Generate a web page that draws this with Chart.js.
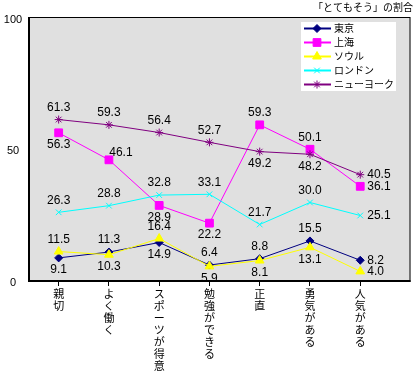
<!DOCTYPE html>
<html>
<head>
<meta charset="utf-8">
<script src="https://cdn.jsdelivr.net/npm/chart.js"></script>
<style>
  html, body { margin: 0; padding: 0; background: #fff; }
  canvas { display: block; }
</style>
</head>
<body>
<canvas id="chart" width="417" height="371"></canvas>
<script>
const categories = ['親切', 'よく働く', 'スポーツが得意', '勉強ができる', '正直', '勇気がある', '人気がある'];
const cities = ['東京', '上海', 'ソウル', 'ロンドン', 'ニューヨーク'];
const tokyo = [9.1, 11.3, 14.9, 6.4, 8.8, 15.5, 8.2];
const shanghai = [56.3, 46.1, 28.9, 22.2, 59.3, 50.1, 36.1];
const seoul = [11.5, 10.3, 16.4, 5.9, 8.1, 13.1, 4.0];
const london = [26.3, 28.8, 32.8, 33.1, 21.7, 30.0, 25.1];
const newyork = [61.3, 59.3, 56.4, 52.7, 49.2, 48.2, 40.5];
const yTicks = [0, 50, 100];
const titleText = '「とてもそう」の割合';

const series = [tokyo, shanghai, seoul, london, newyork];

// where each value label sits next to its point (t = above, b = below, r = right)
const labelPos = [
  ['b', 't', 'b', 't', 't', 't', 'r'],
  ['b', 'tr', 'b', 'b', 't', 't', 'r'],
  ['t', 'b', 't', 'b', 'b', 'b', 'r'],
  ['t', 't', 't', 't', 't', 't', 'r'],
  ['t', 't', 't', 't', 'b', 'b', 'r']
];

const colors = ['#000080', '#ff00ff', '#ffff00', '#00ffff', '#800080'];
const styles = ['rectRot', 'rect', 'triangle', 'crossRot', 'star'];
const radii = [4, 5.5, 5, 4, 4];

const datasets = series.map((vals, i) => ({
  label: cities[i],
  data: vals.map((v, j) => ({ x: j, y: v })),
  borderColor: colors[i],
  backgroundColor: colors[i],
  borderWidth: 1,
  pointStyle: styles[i],
  pointRadius: radii[i],
  pointBorderWidth: 1,
  order: series.length - i
}));

const plotBox = {
  id: 'plotBox',
  beforeDatasetsDraw(chart) {
    const { ctx, chartArea: a } = chart;
    ctx.save();
    ctx.fillStyle = '#e0e0e0';
    ctx.fillRect(a.left, a.top, a.right - a.left, a.bottom - a.top);
    ctx.restore();
  },
  afterDraw(chart) {
    const { ctx, chartArea: a } = chart;
    ctx.save();
    ctx.strokeStyle = '#000';
    ctx.lineWidth = 1;
    ctx.strokeRect(a.left + 0.5, a.top + 0.5, a.right - a.left - 1, a.bottom - a.top - 1);
    ctx.lineWidth = 2;
    ctx.beginPath();
    ctx.moveTo(a.left + 1, a.top);
    ctx.lineTo(a.left + 1, a.bottom - 1);
    ctx.lineTo(a.right, a.bottom - 1);
    ctx.stroke();

    // y tick labels, centred in the gutter
    const yScale = chart.scales.y;
    ctx.font = '11px "Liberation Sans"';
    ctx.fillStyle = '#000';
    ctx.textAlign = 'center';
    ctx.textBaseline = 'middle';
    yTicks.forEach(v => {
      ctx.fillText(String(v), 13, yScale.getPixelForValue(v) + (v === 100 ? 3 : 1));
    });

    // value labels
    ctx.font = '12px "Liberation Sans"';
    series.forEach((vals, i) => {
      chart.getDatasetMeta(i).data.forEach((pt, j) => {
        const p = labelPos[i][j];
        let x = pt.x, y = pt.y;
        ctx.textAlign = 'center';
        if (p === 't') y -= 12;
        else if (p === 'b') y += 12;
        else if (p === 'tr') { x += 12; y -= 7; }
        else if (p === 'r') { ctx.textAlign = 'left'; x += 7; }
        ctx.fillText(vals[j].toFixed(1), x, y);
      });
    });

    // legend
    ctx.fillStyle = '#fff';
    ctx.fillRect(301, 22, 95, 69);
    ctx.font = '10px "Noto Sans CJK JP"';
    ctx.textAlign = 'left';
    cities.forEach((name, i) => {
      const y = 28.5 + i * 14;
      ctx.strokeStyle = colors[i];
      ctx.fillStyle = colors[i];
      ctx.lineWidth = 2;
      ctx.beginPath();
      ctx.moveTo(304, y);
      ctx.lineTo(331, y);
      ctx.stroke();
      ctx.lineWidth = 1;
      Chart.helpers.drawPoint(ctx, { pointStyle: styles[i], radius: radii[i], rotation: 0, borderWidth: 1 }, 317, y);
      ctx.fillStyle = '#000';
      ctx.fillText(name, 334, y);
    });

    // title
    ctx.textAlign = 'right';
    ctx.fillText(titleText, 413, 7);
    ctx.restore();
  }
};

new Chart(document.getElementById('chart').getContext('2d'), {
  type: 'line',
  data: { datasets },
  options: {
    responsive: false,
    animation: false,
    events: [],
    layout: { padding: { top: 17, right: 4, left: 0, bottom: 0 } },
    plugins: { legend: { display: false }, tooltip: { enabled: false } },
    scales: {
      x: {
        type: 'linear',
        min: -0.61,
        max: 7.0,
        afterBuildTicks: s => { s.ticks = categories.map((c, i) => ({ value: i })); },
        afterFit: s => { s.height = 89; },
        grid: { display: true, drawOnChartArea: false, drawTicks: true, tickLength: 4, color: '#000' },
        border: { display: false },
        ticks: {
          autoSkip: false,
          maxRotation: 0,
          minRotation: 0,
          padding: 2,
          color: '#000',
          font: { family: 'Noto Sans CJK JP', size: 11, lineHeight: '12px' },
          callback: v => categories[v] ? categories[v].split('') : ''
        }
      },
      y: {
        min: 0,
        max: 100,
        afterBuildTicks: s => { s.ticks = yTicks.map(v => ({ value: v })); },
        afterFit: s => { s.width = 28; },
        grid: { display: false },
        border: { display: false },
        ticks: { display: false }
      }
    }
  },
  plugins: [plotBox]
});
</script>
</body>
</html>
